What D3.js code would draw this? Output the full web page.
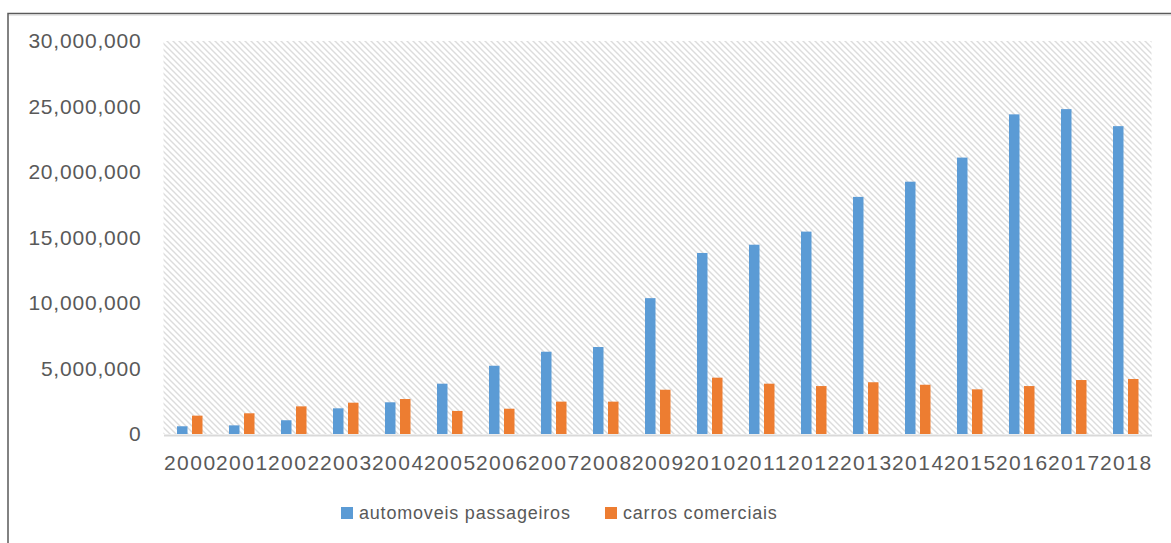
<!DOCTYPE html>
<html>
<head>
<meta charset="utf-8">
<script src="https://cdn.jsdelivr.net/npm/d3@7"></script>
<style>
  html, body { margin: 0; padding: 0; background: #fff; }
  svg { display: block; }
</style>
</head>
<body>
<svg id="chart" width="1171" height="543"></svg>
<script>
const years = ["2000","2001","2002","2003","2004","2005","2006","2007","2008","2009",
               "2010","2011","2012","2013","2014","2015","2016","2017","2018"];
const seriesNames = ["automoveis passageiros", "carros comerciais"];
const passageiros = [590000, 660000, 1050000, 1960000, 2420000, 3840000, 5210000, 6280000, 6640000, 10370000,
                     13820000, 14450000, 15450000, 18100000, 19260000, 21100000, 24400000, 24800000, 23500000];
const comerciais = [1400000, 1580000, 2110000, 2390000, 2670000, 1760000, 1930000, 2470000, 2470000, 3380000,
                    4300000, 3840000, 3660000, 3950000, 3760000, 3410000, 3660000, 4120000, 4200000];
const yTicks = [0, 5000000, 10000000, 15000000, 20000000, 25000000, 30000000];
const colors = ["#5b9bd5", "#ed7d31"];

(function () {
const svg = d3.select("#chart");
const pLeft = 163.5, pRight = 1151.5, pTop = 41, pBottom = 434;
const textColor = "#595959";
const fontFam = "'Liberation Sans', Arial, sans-serif";

// frame
svg.append("path")
  .attr("d", "M8,543 L8,13.5 L1171,13.5")
  .attr("fill", "none").attr("stroke", "#5a5a5a").attr("stroke-width", 1.5);
svg.append("line").attr("x1", 9).attr("x2", 1171).attr("y1", 15).attr("y2", 15)
  .attr("stroke", "#d0d0d0").attr("stroke-width", 1);

// hatch pattern
const defs = svg.append("defs");
const pat = defs.append("pattern").attr("id", "hatch")
  .attr("patternUnits", "userSpaceOnUse").attr("width", 6).attr("height", 6);
pat.append("rect").attr("width", 6).attr("height", 6).attr("fill", "#ffffff");
pat.append("path").attr("d", "M-1,-1 L7,7 M-1,5 L1,7 M5,-1 L7,1")
  .attr("stroke", "#dcdcdc").attr("stroke-width", 1.4);

const x0 = d3.scaleBand().domain(years).range([pLeft, pRight]);
const x1 = d3.scaleBand().domain(seriesNames).range([13.5, 39]).paddingInner(0.3);
const y = d3.scaleLinear().domain([0, 30000000]).range([pBottom, pTop]);

svg.append("rect").attr("x", pLeft).attr("y", pTop)
  .attr("width", pRight - pLeft).attr("height", pBottom - pTop)
  .attr("fill", "url(#hatch)");

// bars
const data = years.map((yr, i) => ({ yr, vals: [passageiros[i], comerciais[i]] }));
const g = svg.append("g");
const groups = g.selectAll("g.grp").data(data).join("g")
  .attr("class", "grp")
  .attr("transform", d => `translate(${x0(d.yr)},0)`);
groups.selectAll("rect").data(d => d.vals.map((v, k) => ({ v, k })))
  .join("rect")
  .attr("x", d => x1(seriesNames[d.k]))
  .attr("width", x1.bandwidth())
  .attr("y", d => y(d.v))
  .attr("height", d => y(0) - y(d.v))
  .attr("fill", d => colors[d.k]);

// x axis
const xAxis = svg.append("g").attr("transform", `translate(0,${pBottom + 1})`)
  .call(d3.axisBottom(x0).tickSize(0).tickPadding(20));
xAxis.select(".domain").attr("stroke", "#d9d9d9").attr("stroke-width", 2);
xAxis.selectAll("text")
  .attr("fill", textColor)
  .attr("dx", "0.75")
  .style("font-family", fontFam)
  .style("font-size", "21px")
  .style("letter-spacing", "1.5px");

// y axis
const yAxis = svg.append("g").attr("transform", `translate(${pLeft},0)`)
  .call(d3.axisLeft(y).tickValues(yTicks).tickSize(0).tickPadding(22).tickFormat(d3.format(",")));
yAxis.select(".domain").remove();
yAxis.selectAll("text")
  .attr("fill", textColor)
  .style("font-family", fontFam)
  .style("font-size", "21px")
  .style("letter-spacing", "0.8px");

// legend
const legendItems = [
  { name: seriesNames[0], color: colors[0], x: 341 },
  { name: seriesNames[1], color: colors[1], x: 605 }
];
const lg = svg.append("g");
legendItems.forEach(it => {
  lg.append("rect").attr("x", it.x).attr("y", 507).attr("width", 12).attr("height", 12).attr("fill", it.color);
  lg.append("text").attr("x", it.x + 18).attr("y", 519)
    .attr("fill", textColor)
    .style("font-family", fontFam)
    .style("font-size", "18px")
    .style("letter-spacing", "0.8px")
    .text(it.name);
});
})();
</script>
</body>
</html>
